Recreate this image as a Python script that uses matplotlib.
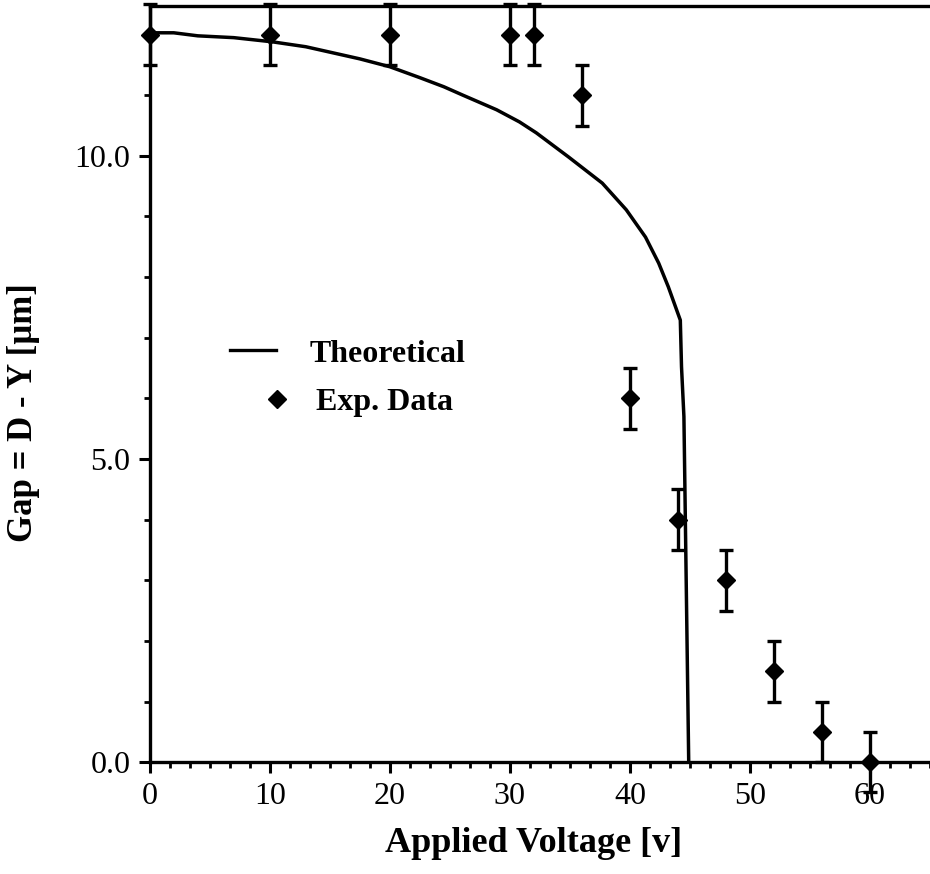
import matplotlib
matplotlib.use("Agg")
import matplotlib.pyplot as plt
from matplotlib.ticker import MultipleLocator, FixedLocator
from matplotlib.lines import Line2D


# -----------------------------
# data
# -----------------------------
exp_voltage = [0, 10, 20, 30, 32, 36, 40, 44, 48, 52, 56, 60]
exp_gap = [12.0, 12.0, 12.0, 12.0, 12.0, 11.0, 6.0, 4.0, 3.0, 1.5, 0.5, 0.0]
exp_err = [0.5] * len(exp_gap)

theo_voltage = [0.0, 2.0, 4.0, 7.0, 10.25, 13.0, 15.25, 17.5, 20.0, 22.5,
                24.5, 26.1, 28.9, 30.8, 32.2, 34.9, 37.7, 39.7, 41.3, 42.4,
                43.2, 43.8, 44.2, 44.3, 44.5, 44.9]
theo_gap = [12.03, 12.03, 11.98, 11.95, 11.88, 11.8, 11.7, 11.6, 11.47, 11.29,
            11.14, 11.0, 10.76, 10.56, 10.38, 9.98, 9.55, 9.11, 8.66, 8.23,
            7.84, 7.51, 7.29, 6.52, 5.7, 0.0]

x_ticks = [0, 10, 20, 30, 40, 50, 60]
y_ticks = [0.0, 5.0, 10.0]
y_ticklabels = ["0.0", "5.0", "10.0"]


plt.rcParams["font.family"] = ["Liberation Serif", "DejaVu Serif"]

fig = plt.figure(figsize=(9.3, 8.74), dpi=100)
ax = fig.add_axes([0.161, 0.128, 0.839, 0.865])

ax.plot(theo_voltage, theo_gap, color="black", lw=2.5)
ax.errorbar(exp_voltage, exp_gap, yerr=exp_err, fmt="D", color="black",
            markersize=9, elinewidth=2.4, capsize=5, capthick=2.4,
            clip_on=False, zorder=3)

ax.set_xlim(0, 65)
ax.set_ylim(0, 12.47)

ax.xaxis.set_major_locator(FixedLocator(x_ticks))
ax.xaxis.set_minor_locator(MultipleLocator(10 / 6))
ax.yaxis.set_major_locator(FixedLocator(y_ticks))
ax.set_yticklabels(y_ticklabels)
ax.yaxis.set_minor_locator(MultipleLocator(1))

ax.tick_params(which="major", direction="out", length=8, width=2.2,
               labelsize=23, pad=6)
ax.tick_params(which="minor", direction="out", length=4, width=2)

for side in ["left", "bottom", "top"]:
    ax.spines[side].set_linewidth(2.4)
ax.spines["right"].set_visible(False)

ax.set_xlabel("Applied Voltage [v]", fontsize=26, fontweight="bold")
ax.xaxis.set_label_coords(0.492, -0.086)
ax.set_ylabel("Gap = D - Y [\u00b5m]", fontsize=25, fontweight="bold")
ax.yaxis.set_label_coords(-0.141, 0.462)

# legend: two separate entries, as in the original layout
leg1 = ax.legend([Line2D([], [], color="black", lw=2.4)], ["Theoretical"],
                 loc="center left", bbox_to_anchor=(0.1026, 0.540),
                 frameon=False, borderpad=0, borderaxespad=0,
                 handlelength=1.45, handletextpad=1.05,
                 prop={"weight": "bold", "size": 23})
ax.add_artist(leg1)
ax.legend([Line2D([], [], marker="D", color="black", ls="none", markersize=9)],
          ["Exp. Data"], loc="center left", bbox_to_anchor=(0.143, 0.476),
          frameon=False, borderpad=0, borderaxespad=0,
          handlelength=1.0, handletextpad=0.72,
          prop={"weight": "bold", "size": 23})

plt.savefig("out.png", dpi=100)
plt.close()
